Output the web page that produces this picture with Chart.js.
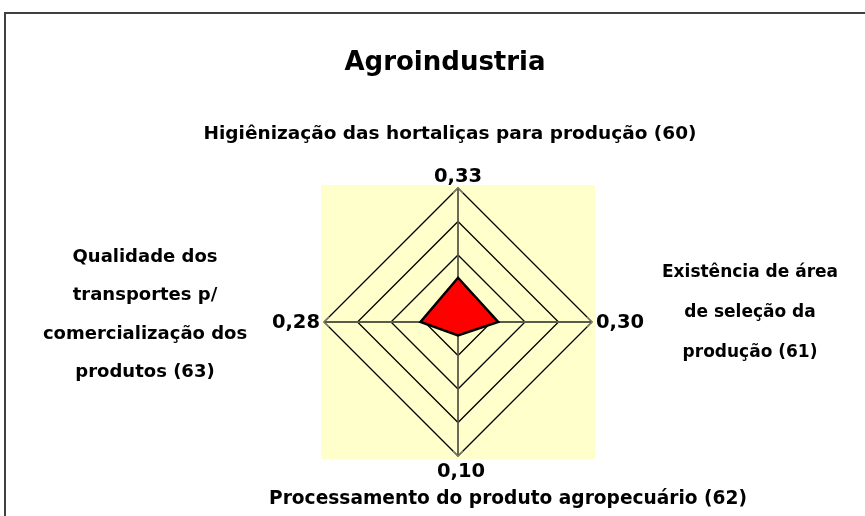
<!DOCTYPE html>
<html>
<head>
<meta charset="utf-8">
<script src="https://cdn.jsdelivr.net/npm/chart.js@4"></script>
<style>
  html, body { margin: 0; padding: 0; background: #fff; }
  #wrap { width: 865px; height: 516px; position: relative; }
</style>
</head>
<body>
<div id="wrap"><canvas id="radar"></canvas></div>
<script>
const titulo = 'Agroindustria';
const categorias = [
  ['Higiênização das hortaliças para produção (60)'],
  ['Existência de área', 'de seleção da', 'produção (61)'],
  ['Processamento do produto agropecuário (62)'],
  ['Qualidade dos', 'transportes p/', 'comercialização dos', 'produtos (63)']
];
const valores = [0.33, 0.30, 0.10, 0.28];
const valorLabels = ['0,33', '0,30', '0,10', '0,28'];

const FONT = '"DejaVu Sans", sans-serif';

// fundo amarelo da área de plotagem + moldura
const fundoPlugin = {
  id: 'fundo',
  beforeDraw(chart) {
    const { ctx } = chart;
    const r = chart.scales.r;
    const half = r.drawingArea + 3;
    ctx.save();
    ctx.fillStyle = '#fff';
    ctx.fillRect(0, 0, chart.width, chart.height);
    ctx.fillStyle = '#FFFFCC';
    ctx.fillRect(r.xCenter - half, r.yCenter - half, half * 2, half * 2);
    ctx.strokeStyle = '#404040';
    ctx.lineWidth = 2;
    ctx.beginPath();
    ctx.moveTo(5, chart.height + 2);
    ctx.lineTo(5, 13);
    ctx.lineTo(chart.width + 2, 13);
    ctx.stroke();
    ctx.restore();
  }
};

// títulos, rótulos de valor e descrições
const textosPlugin = {
  id: 'textos',
  afterDraw(chart) {
    const { ctx } = chart;
    const r = chart.scales.r;
    const cx = r.xCenter, cy = r.yCenter, R = r.drawingArea;
    ctx.save();
    ctx.fillStyle = '#000';

    ctx.font = 'bold 26px ' + FONT;
    ctx.textAlign = 'center';
    ctx.textBaseline = 'middle';
    ctx.fillText(titulo, cx - 13, 63);

    // pequenas marcas nas pontas dos eixos
    ctx.strokeStyle = '#777';
    ctx.lineWidth = 1;
    valores.forEach((v, i) => {
      const p = r.getPointPositionForValue(i, r.max);
      const a = r.getIndexAngle(i) - Math.PI / 2;
      const dx = Math.cos(a), dy = Math.sin(a);
      const nx = -dy, ny = dx;
      ctx.beginPath();
      ctx.moveTo(p.x - dx * 5 + nx * 5, p.y - dy * 5 + ny * 5);
      ctx.lineTo(p.x, p.y);
      ctx.lineTo(p.x - dx * 5 - nx * 5, p.y - dy * 5 - ny * 5);
      ctx.stroke();
    });

    ctx.font = 'bold 19.5px ' + FONT;
    const pt = r.getPointPositionForValue(0, r.max);
    ctx.textAlign = 'center';
    ctx.fillText(valorLabels[0], pt.x, pt.y - 11);
    const pr = r.getPointPositionForValue(1, r.max);
    ctx.textAlign = 'left';
    ctx.fillText(valorLabels[1], pr.x + 4, pr.y + 1);
    const pb = r.getPointPositionForValue(2, r.max);
    ctx.textAlign = 'center';
    ctx.fillText(valorLabels[2], pb.x + 3, pb.y + 16);
    const pl = r.getPointPositionForValue(3, r.max);
    ctx.textAlign = 'right';
    ctx.fillText(valorLabels[3], pl.x - 4, pl.y + 1);

    ctx.textAlign = 'center';
    ctx.font = 'bold 18.5px ' + FONT;
    ctx.fillText(categorias[0][0], cx - 8, cy - R - 54);
    ctx.font = 'bold 18.6px ' + FONT;
    ctx.fillText(categorias[2][0], cx + 50, cy + R + 43);
    ctx.font = 'bold 17px ' + FONT;
    categorias[1].forEach((t, k) => ctx.fillText(t, 750, cy - 49 + k * 40));
    ctx.font = 'bold 18px ' + FONT;
    categorias[3].forEach((t, k) => ctx.fillText(t, 145, cy - 65 + k * 38.5));
    ctx.restore();
  }
};

new Chart(document.getElementById('radar'), {
  type: 'radar',
  data: {
    labels: categorias.map(c => c.join(' ')),
    datasets: [{
      data: valores,
      backgroundColor: '#FF0000',
      borderColor: '#000',
      borderWidth: 2.5,
      pointRadius: 0,
      fill: true
    }]
  },
  options: {
    responsive: true,
    maintainAspectRatio: false,
    animation: false,
    layout: { padding: { left: 324, right: 273, top: 188, bottom: 60 } },
    plugins: { legend: { display: false }, tooltip: { enabled: false } },
    scales: {
      r: {
        min: 0,
        max: 1,
        ticks: { display: false, stepSize: 0.25 },
        pointLabels: { display: false },
        grid: { circular: false, color: '#000', lineWidth: 1.3 },
        angleLines: { color: '#5a5a4a', lineWidth: 1.8 }
      }
    }
  },
  plugins: [fundoPlugin, textosPlugin]
});
</script>
</body>
</html>
